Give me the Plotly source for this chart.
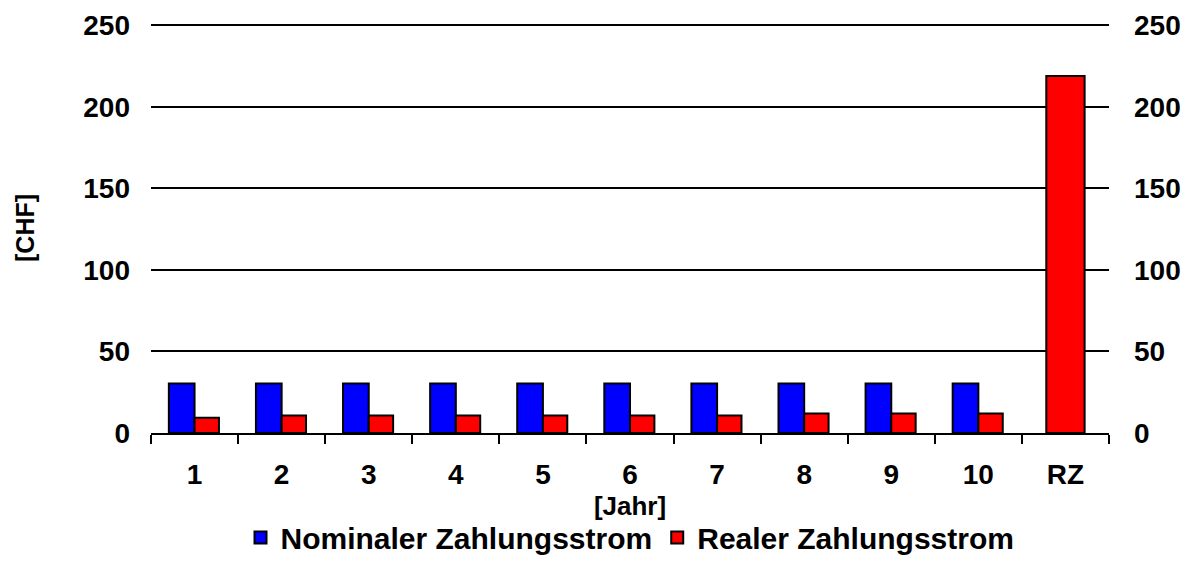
import plotly.graph_objects as go

categories = ["1", "2", "3", "4", "5", "6", "7", "8", "9", "10", "RZ"]
years = categories[:10]
nominal = [30.3, 30.3, 30.3, 30.3, 30.3, 30.3, 30.3, 30.3, 30.3, 30.3]
real = [9.3, 10.7, 10.7, 10.8, 10.8, 10.8, 10.8, 12.0, 12.0, 12.0]
rz_label = ["RZ"]
rz_real = [219]
y_ticks = [0, 50, 100, 150, 200, 250]

FONT = "Liberation Sans, Arial, sans-serif"
BLUE = "#0000FF"
RED = "#FF0000"

fig = go.Figure()
fig.add_trace(go.Bar(
    x=years, y=nominal, name="Nominaler Zahlungsstrom",
    marker=dict(color=BLUE, line=dict(color="black", width=2)),
    width=0.295, offset=-0.295,
))
fig.add_trace(go.Bar(
    x=years, y=real, name="Realer Zahlungsstrom",
    marker=dict(color=RED, line=dict(color="black", width=2)),
    width=0.28, offset=0.0, legendgroup="real",
))
fig.add_trace(go.Bar(
    x=rz_label, y=rz_real, name="Realer Zahlungsstrom", showlegend=False,
    marker=dict(color=RED, line=dict(color="black", width=2)),
    width=0.44, offset=-0.22, legendgroup="real",
))
# invisible trace to drive the right-hand axis
fig.add_trace(go.Scatter(x=categories, y=[None]*len(categories), yaxis="y2",
                         showlegend=False, hoverinfo="skip"))

tickfont = dict(family=FONT, size=28, color="black", weight="bold")
fig.update_layout(
    width=1192, height=563,
    margin=dict(l=143, r=91, t=15, b=138, autoexpand=False),
    paper_bgcolor="white", plot_bgcolor="white",
    barmode="overlay",
    font=dict(family=FONT, color="black"),
    xaxis=dict(
        type="category", categoryorder="array", categoryarray=categories,
        range=[-0.5, 10.5], automargin=False,
        showline=True, linecolor="black", linewidth=2,
        ticks="outside", tickson="boundaries", ticklen=9, tickwidth=2, tickcolor="black",
        tickfont=tickfont, ticklabelstandoff=15,
        title=dict(text="[Jahr]", font=dict(family=FONT, size=26, color="black", weight="bold"), standoff=8),
        showgrid=False,
    ),
    yaxis=dict(
        range=[0, 251.5], tickvals=y_ticks, automargin=False,
        tickfont=tickfont,
        showgrid=True, gridcolor="black", gridwidth=1.5,
        zeroline=False, showline=False, ticks="",
        ticklabelstandoff=20,
    ),
    yaxis2=dict(
        overlaying="y", side="right", range=[0, 251.5], tickvals=y_ticks, automargin=False,
        tickfont=tickfont,
        showgrid=False, zeroline=False, showline=False, ticks="",
        ticklabelstandoff=24,
    ),
    legend=dict(
        orientation="h", x=0.5, xanchor="center", y=-0.318, yanchor="bottom",
        font=dict(family=FONT, size=30, color="black", weight="bold"),
        tracegroupgap=0,
    ),
    annotations=[dict(
        text="[CHF]", xref="paper", yref="paper", x=-(151 - 25) / 958, y=0.5,
        xanchor="center", yanchor="middle", textangle=-90, showarrow=False,
        font=dict(family=FONT, size=25, color="black", weight="bold"),
    )],
    showlegend=True,
)

fig.write_html("out.html")
